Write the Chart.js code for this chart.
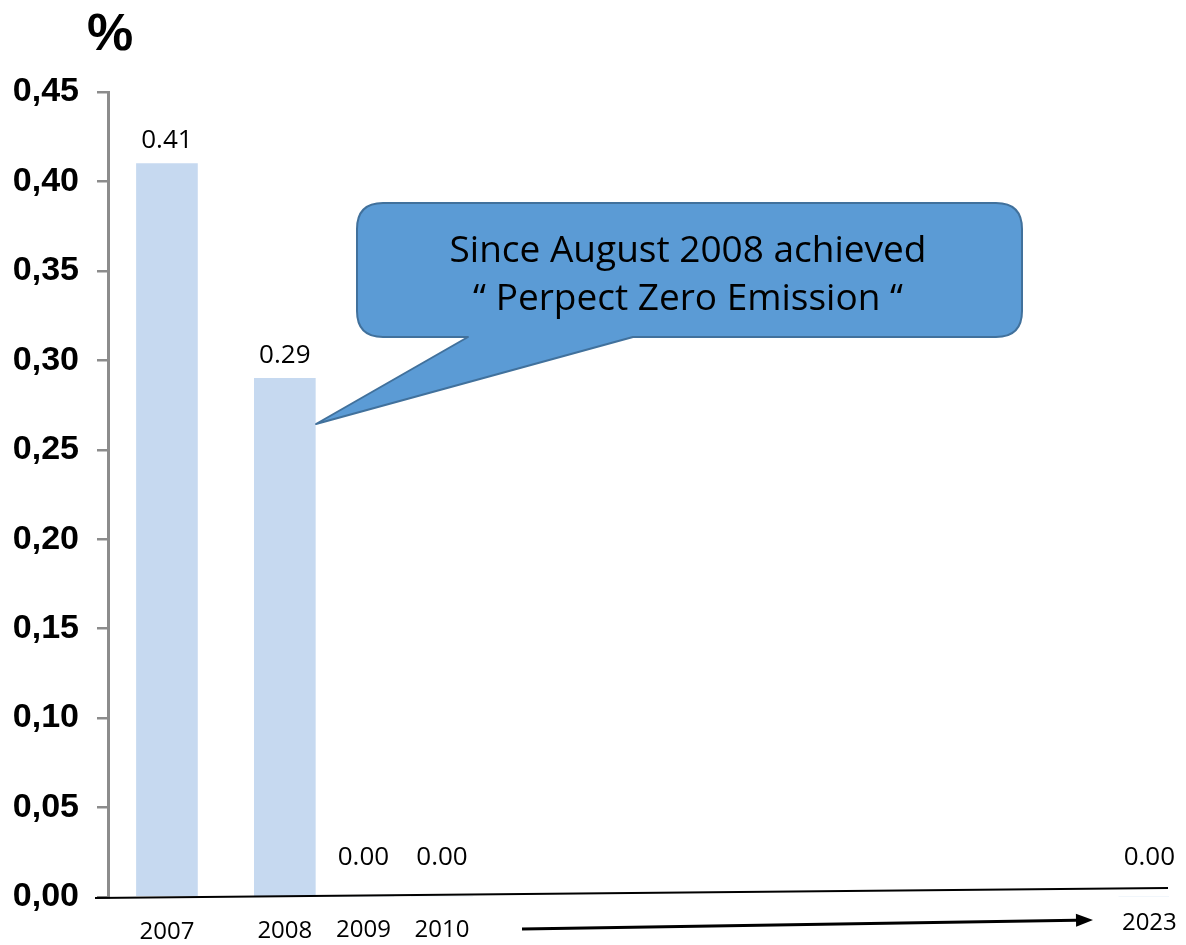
<!DOCTYPE html>
<html>
<head>
<meta charset="utf-8">
<script src="https://cdn.jsdelivr.net/npm/chart.js@4"></script>
<style>
  html, body { margin: 0; padding: 0; background: #ffffff; }
  #wrap { width: 1186px; height: 945px; position: relative; }
</style>
</head>
<body>
<div id="wrap"><canvas id="c" width="1186" height="945"></canvas></div>
<script>
// ---- data ----
const categories = ['', '2007', '', '', '2008', '', '2009', '', '2010',
  '', '', '', '', '', '', '', '', '', '', '', '', '', '', '', '', '', '2023'];
const values = [null, 0.41, null, null, 0.29, null, 0.00, null, 0.00,
  null, null, null, null, null, null, null, null, null, null, null, null, null, null, null, null, null, 0.00];
const yTickLabels = ['0,00', '0,05', '0,10', '0,15', '0,20', '0,25', '0,30', '0,35', '0,40', '0,45'];
const unitLabel = '%';
const calloutLines = ['Since August 2008 achieved', '\u201C Perpect Zero Emission \u201C'];

const BAR_COLOR = '#C6D9F0';
const LABEL_FONT = '"Open Sans", "Noto Sans", sans-serif';

const overlay = {
  id: 'overlay',
  afterDatasetsDraw(chart) {
    const ctx = chart.ctx;
    const xs = chart.scales.x, ys = chart.scales.y;
    const area = chart.chartArea;
    const y0 = ys.getPixelForValue(0);
    // slanted baseline
    const bx1 = area.left - 13, by1 = y0 + 1;
    const bx2 = area.right - 1, by2 = y0 - 9;
    const baseAt = (x) => by1 + (by2 - by1) * (x - bx1) / (bx2 - bx1);
    ctx.save();
    ctx.strokeStyle = '#000000';
    ctx.lineWidth = 2;
    ctx.beginPath(); ctx.moveTo(bx1, by1); ctx.lineTo(bx2, by2); ctx.stroke();

    // x labels & data labels
    ctx.fillStyle = '#000000';
    ctx.textAlign = 'center';
    ctx.textBaseline = 'middle';
    const meta = chart.getDatasetMeta(0);
    categories.forEach((lab, i) => {
      if (!lab) return;
      const x = xs.getPixelForValue(i);
      ctx.font = '24px ' + LABEL_FONT;
      ctx.fillText(lab, x, baseAt(x) + 35);
      const v = values[i];
      if (v === null) return;
      const bar = meta.data[i];
      const ly = v > 0 ? bar.y - 23 : y0 - 39;
      ctx.font = '26px ' + LABEL_FONT;
      ctx.fillText(v.toFixed(2), bar.x, ly);
    });

    // arrow
    const ax1 = 522, ay1 = 929, ax2 = 1093, ay2 = 920;
    const ang = Math.atan2(ay2 - ay1, ax2 - ax1);
    const hl = 17, hw = 6.5;
    const hbx = ax2 - hl * Math.cos(ang), hby = ay2 - hl * Math.sin(ang);
    ctx.lineWidth = 3;
    ctx.beginPath(); ctx.moveTo(ax1, ay1); ctx.lineTo(hbx, hby); ctx.stroke();
    ctx.beginPath();
    ctx.moveTo(ax2, ay2);
    ctx.lineTo(hbx + hw * Math.sin(ang), hby - hw * Math.cos(ang));
    ctx.lineTo(hbx - hw * Math.sin(ang), hby + hw * Math.cos(ang));
    ctx.closePath(); ctx.fill();

    // callout
    const L = 357, T = 203, R = 1022, B = 337, r = 26;
    const tailA = 468, tailB = 633, tipX = 316, tipY = 424;
    ctx.beginPath();
    ctx.moveTo(L + r, T);
    ctx.lineTo(R - r, T); ctx.quadraticCurveTo(R, T, R, T + r);
    ctx.lineTo(R, B - r); ctx.quadraticCurveTo(R, B, R - r, B);
    ctx.lineTo(tailB, B); ctx.lineTo(tipX, tipY); ctx.lineTo(tailA, B);
    ctx.lineTo(L + r, B); ctx.quadraticCurveTo(L, B, L, B - r);
    ctx.lineTo(L, T + r); ctx.quadraticCurveTo(L, T, L + r, T);
    ctx.closePath();
    ctx.fillStyle = '#5B9BD5';
    ctx.fill();
    ctx.strokeStyle = '#41719C';
    ctx.lineWidth = 2;
    ctx.lineJoin = 'round';
    ctx.stroke();
    ctx.fillStyle = '#000000';
    ctx.font = '37px ' + LABEL_FONT;
    ctx.fillText(calloutLines[0], 688, 251);
    ctx.fillText(calloutLines[1], 688, 299);

    // unit label
    ctx.font = 'bold 52px "Liberation Sans", Arial, sans-serif';
    ctx.fillText(unitLabel, 110, 36);
    ctx.restore();
  }
};

new Chart(document.getElementById('c'), {
  type: 'bar',
  data: {
    labels: categories,
    datasets: [{
      data: values,
      backgroundColor: BAR_COLOR,
      borderWidth: 0,
      barThickness: 61
    }]
  },
  options: {
    responsive: false,
    animation: false,
    events: [],
    layout: { padding: { top: 92, bottom: 48, right: 17, left: 0 } },
    plugins: { legend: { display: false }, tooltip: { enabled: false } },
    scales: {
      x: { display: false, grid: { display: false } },
      y: {
        min: 0, max: 0.45,
        afterFit(scale) { scale.width = 108; },
        ticks: {
          stepSize: 0.05,
          padding: 18,
          color: '#000000',
          font: { family: '"Liberation Sans", Arial, sans-serif', size: 34, weight: 'bold' },
          callback: (v, i) => yTickLabels[i]
        },
        grid: { drawOnChartArea: false, drawTicks: true, tickLength: 11, color: '#8C8C8C', lineWidth: 2.5 },
        border: { display: true, color: '#8C8C8C', width: 3 }
      }
    }
  },
  plugins: [overlay]
});
</script>
</body>
</html>
